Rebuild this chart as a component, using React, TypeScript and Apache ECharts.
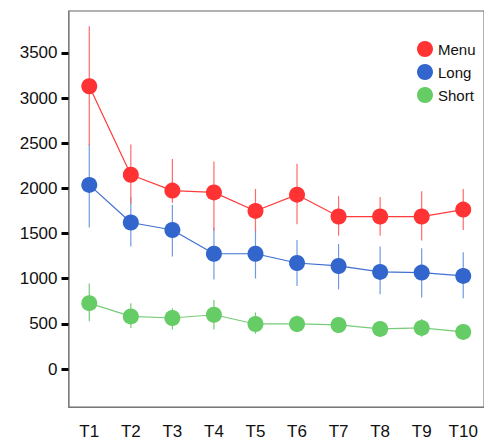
import React, { useEffect, useRef } from "react";
import * as echarts from "echarts";

const categories = ["T1", "T2", "T3", "T4", "T5", "T6", "T7", "T8", "T9", "T10"];
const yTicks = [0, 500, 1000, 1500, 2000, 2500, 3000, 3500];

const menuMean = [3130, 2150, 1975, 1955, 1750, 1930, 1688, 1688, 1688, 1765];
const menuLow = [2475, 1830, 1840, 1531, 1523, 1604, 1476, 1476, 1422, 1538];
const menuHigh = [3795, 2486, 2325, 2297, 1994, 2271, 1914, 1903, 1969, 1994];

const longMean = [2038, 1622, 1539, 1276, 1276, 1174, 1141, 1075, 1068, 1031];
const longLow = [1567, 1356, 1247, 991, 1002, 919, 882, 827, 791, 783];
const longHigh = [2490, 1903, 1819, 1567, 1567, 1429, 1385, 1356, 1338, 1294];

const shortMean = [729, 583, 565, 601, 499, 499, 488, 444, 455, 411];
const shortLow = [528, 455, 437, 437, 390, 408, 419, 383, 357, 360];
const shortHigh = [948, 729, 674, 765, 627, 594, 572, 510, 554, 460];

const FONT = "'Liberation Sans', Arial, sans-serif";

function errorSeries(name: string, low: number[], high: number[], color: string) {
  return {
    type: "custom",
    name: name + "-err",
    data: low.map((l, i) => [i, l, high[i]]),
    encode: { x: 0, y: [1, 2] },
    z: 1,
    silent: true,
    renderItem: (params: any, api: any) => {
      const x = api.value(0);
      const lo = api.coord([x, api.value(1)]);
      const hi = api.coord([x, api.value(2)]);
      return {
        type: "line",
        shape: { x1: lo[0], y1: lo[1], x2: hi[0], y2: hi[1] },
        style: { stroke: color, lineWidth: 1.2 },
      };
    },
  };
}

function lineSeries(name: string, data: number[], color: string, lineColor: string) {
  return {
    type: "line",
    name,
    data,
    z: 3,
    symbol: "circle",
    symbolSize: 16,
    itemStyle: { color },
    lineStyle: { color: lineColor, width: 1.2 },
  };
}

export default function App() {
  const ref = useRef<HTMLDivElement>(null);
  useEffect(() => {
    if (!ref.current) return;
    const chart = echarts.init(ref.current, null, { renderer: "svg" });
    chart.setOption({
      animation: false,
      backgroundColor: "#ffffff",
      grid: {
        left: 68.5,
        top: 11,
        width: 419,
        height: 401,
        show: true,
        borderColor: "#666",
        borderWidth: 1,
      },
      legend: {
        data: ["Menu", "Long", "Short"],
        orient: "vertical",
        left: 412,
        top: 36,
        icon: "circle",
        itemWidth: 16,
        itemHeight: 16,
        itemGap: 7,
        textStyle: { fontFamily: FONT, fontSize: 15, color: "#111" },
      },
      xAxis: {
        type: "category",
        data: categories,
        boundaryGap: true,
        axisLine: { onZero: false, lineStyle: { color: "#777", width: 1 } },
        axisTick: { alignWithLabel: true, length: 8, lineStyle: { color: "#000", width: 3 } },
        axisLabel: { fontFamily: FONT, fontSize: 17, color: "#111", margin: 16 },
        splitLine: { show: false },
      },
      yAxis: {
        type: "value",
        min: -420,
        max: 3963,
        axisLine: { show: true, lineStyle: { color: "#888", width: 1.5 } },
        axisTick: {
          show: true,
          length: 7,
          customValues: yTicks,
          lineStyle: { color: "#000", width: 3 },
        },
        axisLabel: {
          fontFamily: FONT,
          fontSize: 17,
          color: "#111",
          margin: 11,
          customValues: yTicks,
          formatter: (v: number) => String(v),
        },
        splitLine: { show: false },
      },
      series: [
        errorSeries("Short", shortLow, shortHigh, "#77cc77"),
        errorSeries("Long", longLow, longHigh, "#6f9be0"),
        errorSeries("Menu", menuLow, menuHigh, "#ff6b6b"),
        lineSeries("Short", shortMean, "#66cc66", "#77cc77"),
        lineSeries("Long", longMean, "#3366cc", "#3f6fd0"),
        lineSeries("Menu", menuMean, "#ff3333", "#ff3b3b"),
      ],
    });
    return () => chart.dispose();
  }, []);
  return (
    <div
      ref={ref}
      style={{ position: "absolute", left: 0, top: 0, width: 484, height: 440 }}
    />
  );
}
